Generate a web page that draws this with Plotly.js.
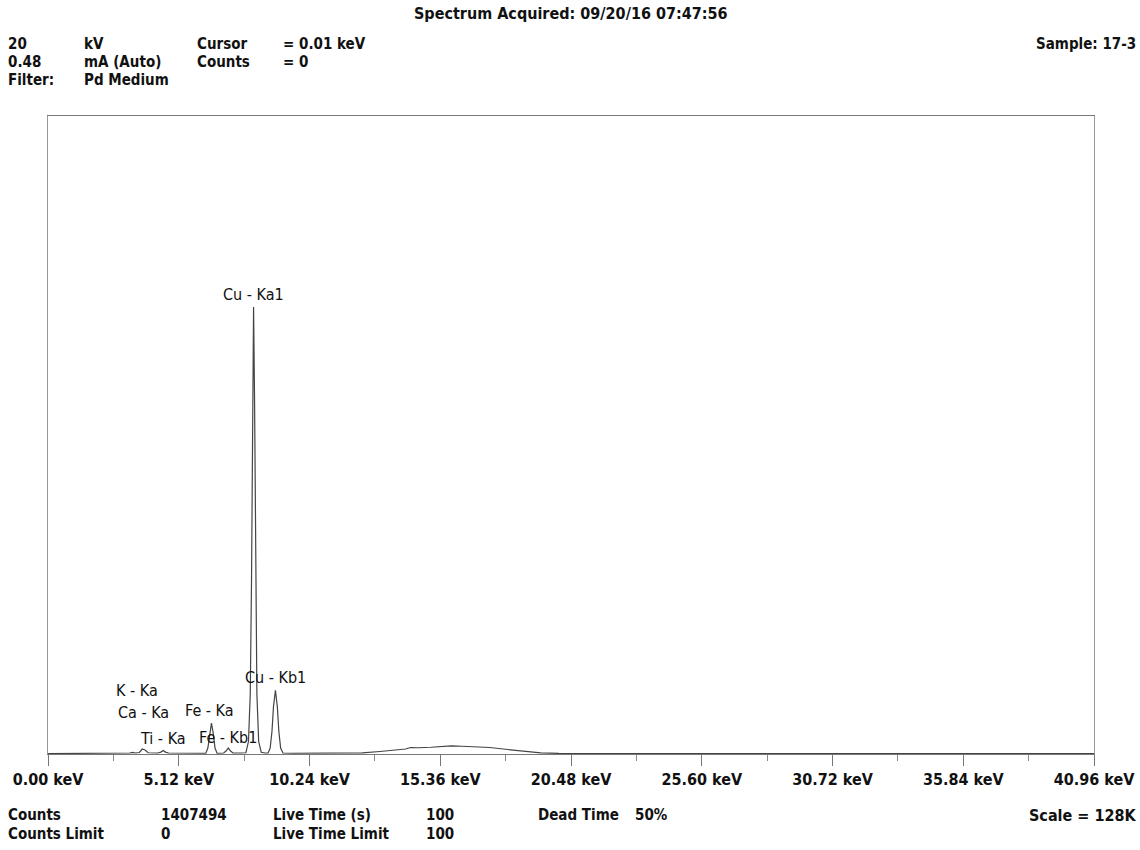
<!DOCTYPE html>
<html>
<head>
<meta charset="utf-8">
<script src="https://cdn.plot.ly/plotly-3.0.1.min.js"></script>
<style>
  html, body { margin: 0; padding: 0; background: #fff; }
  #chart { width: 1140px; height: 850px; }
</style>
</head>
<body>
<div id="chart"></div>
<script>
// ---- Data ----
const energyKeV = [0.00, 0.50, 1.00, 2.00, 3.00, 3.20, 3.31, 3.42, 3.58, 3.69, 3.80, 3.92,
  4.30, 4.42, 4.51, 4.60, 4.72, 5.20, 5.80, 6.18, 6.26, 6.33, 6.40, 6.47, 6.54, 6.62,
  6.88, 6.97, 7.06, 7.15, 7.24, 7.55, 7.75, 7.85, 7.92, 7.97, 8.01, 8.05, 8.09, 8.13,
  8.18, 8.25, 8.35, 8.50, 8.62, 8.70, 8.77, 8.83, 8.905, 8.98, 9.04, 9.11, 9.20, 9.60,
  10.50, 11.50, 12.30, 13.00, 13.60, 14.00, 14.20, 14.50, 15.00, 15.50, 15.80, 16.20,
  16.80, 17.30, 18.00, 18.70, 19.30, 20.00, 25.00, 30.00, 35.00, 40.96];
const counts = [80, 100, 110, 120, 150, 200, 320, 200, 300, 1000, 800, 250,
  200, 380, 700, 380, 200, 180, 200, 150, 1200, 4200, 6200, 4200, 1200, 150,
  200, 600, 1200, 600, 200, 200, 250, 2500, 12000, 35000, 70000, 89700, 70000, 35000,
  12000, 2500, 350, 200, 200, 1200, 4500, 9500, 12800, 9500, 4500, 1200, 200, 150,
  130, 150, 220, 500, 800, 1000, 1300, 1250, 1350, 1500, 1650, 1550,
  1450, 1300, 900, 500, 220, 120, 90, 80, 70, 60];

const majorTickVals = [0, 5.12, 10.24, 15.36, 20.48, 25.60, 30.72, 35.84, 40.96];
const majorTickText = ["0.00 keV", "5.12 keV", "10.24 keV", "15.36 keV", "20.48 keV",
  "25.60 keV", "30.72 keV", "35.84 keV", "40.96 keV"];
const minorTickVals = [2.56, 7.68, 12.80, 17.92, 23.04, 28.16, 33.28, 38.40];

const peakNames = ["Cu - Ka1", "Cu - Kb1", "K - Ka", "Ca - Ka", "Fe - Ka", "Ti - Ka", "Fe - Kb1"];
const peakLabelKeV = [8.03, 8.89, 3.48, 3.72, 6.34, 4.50, 7.05];
const peakLabelCounts = [92100, 15250, 12840, 8230, 8630, 3210, 3410];

const headerLeft = [
  ["20", "kV", "Cursor", "= 0.01 keV"],
  ["0.48", "mA (Auto)", "Counts", "= 0"],
  ["Filter:", "Pd Medium", "", ""]
];
const footer = [
  ["Counts", "1407494", "Live Time (s)", "100", "Dead Time", "50%"],
  ["Counts Limit", "0", "Live Time Limit", "100", "", ""]
];
const titleText = "Spectrum Acquired: 09/20/16 07:47:56";
const sampleText = "Sample: 17-3";
const scaleText = "Scale = 128K";

// ---- Layout helpers (pixel -> paper) ----
const L = 48, R = 1094, T = 116, B = 754;
const px = x => (x - L) / (R - L);
const py = y => (B - y) / (B - T);

const FONT = "'DejaVu Sans Condensed', 'Liberation Sans Narrow', 'Arial Narrow', sans-serif";
const hdrFont = { family: FONT, size: 15, color: '#111' };
const bigFont = { family: FONT, size: 16, color: '#111' };
const lblFont = { family: FONT, size: 16, color: '#111' };

const annotations = [];
function addText(text, x, y, anchor, font) {
  if (!text) return;
  annotations.push({
    text: '<b>' + text + '</b>', xref: 'paper', yref: 'paper',
    x: px(x), y: py(y), xanchor: anchor || 'left', yanchor: 'middle',
    showarrow: false, font: font || hdrFont, borderpad: 0
  });
}
const hdrCols = [7, 83, 196, 282];
const hdrRows = [44, 62, 80];
headerLeft.forEach((row, r) => row.forEach((t, c) => addText(t, hdrCols[c], hdrRows[r])));
addText(titleText, 571, 14, 'center', bigFont);
addText(sampleText, 1137, 44, 'right');
const ftCols = [7, 160, 272, 425, 537, 634];
const ftRows = [815, 834];
footer.forEach((row, r) => row.forEach((t, c) => addText(t, ftCols[c], ftRows[r])));
addText(scaleText, 1137, 815, 'right', bigFont);

peakNames.forEach((n, i) => {
  annotations.push({
    text: n, xref: 'x', yref: 'y', x: peakLabelKeV[i], y: peakLabelCounts[i],
    xanchor: 'center', yanchor: 'middle', showarrow: false, font: lblFont, borderpad: 0
  });
});

const trace = {
  x: energyKeV, y: counts, type: 'scatter', mode: 'lines',
  line: { color: '#444', width: 1.2, shape: 'linear' }, hoverinfo: 'skip'
};

const layout = {
  width: 1140, height: 850,
  margin: { l: L, r: 1140 - R, t: T, b: 850 - B, pad: 0 },
  paper_bgcolor: '#fff', plot_bgcolor: '#fff',
  showlegend: false,
  xaxis: {
    range: [0, 40.96], showgrid: false, zeroline: false,
    showline: true, linecolor: '#777', linewidth: 1, mirror: true,
    ticks: 'outside', ticklen: 11, tickwidth: 1, tickcolor: '#777',
    tickmode: 'array', tickvals: majorTickVals, ticktext: majorTickText,
    tickfont: { family: FONT, size: 16, color: '#111', weight: 'bold' },
    minor: { tickmode: 'array', tickvals: minorTickVals, ticks: 'outside', ticklen: 6, tickcolor: '#888', tickwidth: 1 }
  },
  yaxis: {
    range: [0, 128000], showgrid: false, zeroline: false, showticklabels: false,
    ticks: '', showline: true, linecolor: '#999', linewidth: 1, mirror: true
  },
  annotations: annotations
};

Plotly.newPlot('chart', [trace], layout, { staticPlot: true, displayModeBar: false });
</script>
</body>
</html>
